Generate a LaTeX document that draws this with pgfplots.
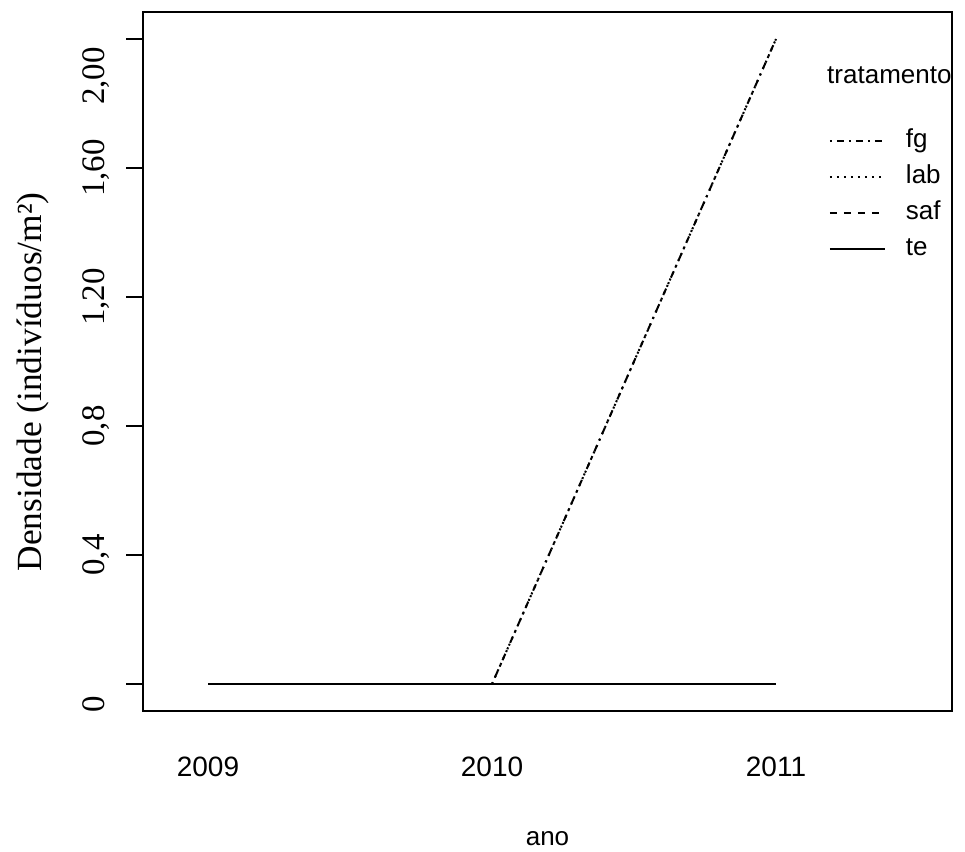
\documentclass[border=0pt]{standalone}
\usepackage{fontspec}
\setmainfont{Liberation Serif}
\setsansfont{Liberation Sans}
\usepackage{pgfplots}
\pgfplotsset{compat=1.18}
\begin{document}
\begin{tikzpicture}
\useasboundingbox (0,0) rectangle (965bp,852bp);
\begin{axis}[
  at={(143bp,141bp)}, anchor=south west,
  scale only axis, width=809bp, height=699bp,
  xmin=2008.7711, xmax=2011.6197,
  ymin=-0.0837, ymax=2.0837,
  axis line style={line width=1.6bp},
  xtick={2009,2010,2011}, xticklabels={2009,2010,2011},
  xtick style={draw=none},
  ytick={0,0.4,0.8,1.2,1.6,2.0},
  yticklabels={{0\hspace*{40bp}},{0,4},{0,8},{1,20},{1,60},{2,00\hspace*{74bp}}},
  ytick style={line width=1.6bp, black},
  major tick length=17bp,
  tick align=outside,
  xtick pos=bottom, ytick pos=left,
  xticklabel style={font=\sffamily\fontsize{28.1}{33}\selectfont, anchor=base, yshift=-48bp},
  yticklabel style={font=\rmfamily\fontsize{33}{38}\selectfont, rotate=90, anchor=base, yshift=22bp},
  xlabel={ano},
  xlabel style={font=\sffamily\fontsize{26.1}{31}\selectfont, at={(axis description cs:0.5,-0.1931)}, anchor=base},
  ylabel={Densidade (indivíduos/m²)},
  ylabel style={font=\rmfamily\fontsize{35.5}{41}\selectfont, at={(axis description cs:-0.1250,0.4707)}, anchor=base},
  legend style={draw=none, fill=none, at={(axis description cs:0.844,0.836)}, anchor=north west,
    row sep=11bp, nodes={inner sep=0pt, text height=19bp, text depth=6bp, font=\sffamily\fontsize{26.1}{31}\selectfont}},
  legend cell align=left,
  legend image code/.code={\draw[#1] (0bp,0bp) -- (55bp,0bp); \path (75bp,0bp);},
]
\addplot[black, line width=2bp, dash pattern=on 2bp off 5bp on 7bp off 5bp] coordinates {(2010,0) (2011,2.0)};
\addlegendentry{fg}
\addplot[black, line width=2bp, dash pattern=on 2bp off 5bp] coordinates {(2010,0) (2011,2.0)};
\addlegendentry{lab}
\addplot[black, line width=2bp, dash pattern=on 7bp off 7bp] coordinates {(2010,0) (2011,0)};
\addlegendentry{saf}
\addplot[black, line width=2bp] coordinates {(2009,0) (2010,0) (2011,0)};
\addlegendentry{te}
\node[anchor=base west, inner sep=0pt, font=\sffamily\fontsize{26.1}{31}\selectfont] at (axis description cs:0.8455,0.8984) {tratamento};
\end{axis}
\end{tikzpicture}
\end{document}
